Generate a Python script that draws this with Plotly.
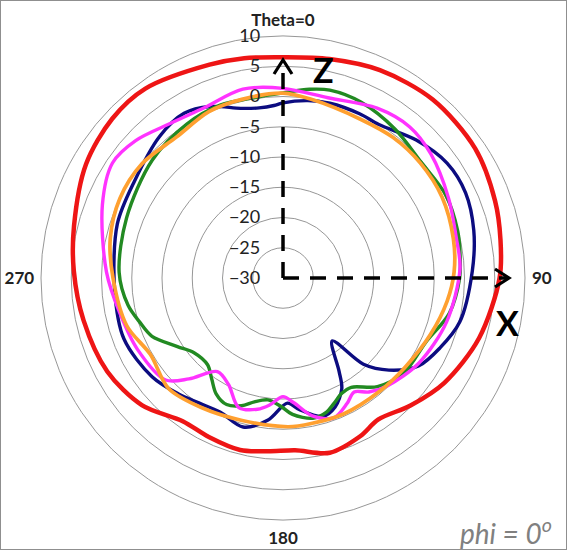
import math
import plotly.graph_objects as go

# Measured radiation patterns, phi = 0 cut (theta in degrees, gain in dB)
theta_red = [0, 12, 25, 40, 56, 70, 80, 90, 107, 123, 135, 146, 154, 165, 176, 185,
             194, 205, 215, 228, 242, 258, 272, 284, 300, 313, 324, 341, 350, 360]
r_red = [6.5, 7.0, 7.9, 8.5, 8.3, 7.3, 6.5, 5.8, 3.9, 1.8, -0.2, -1.8, -0.9, -0.1, -1.45,
         -1.25, -0.7, -1.0, -1.1, 1.4, 2.9, 3.7, 4.6, 5.6, 7.6, 8.6, 8.7, 7.3, 6.9, 6.5]

theta_navy = [0, 8, 15, 25, 32, 44, 55, 65, 76, 88, 104, 114, 123, 131, 137, 142, 149,
              152, 158, 164, 173, 178, 186, 195, 205, 214, 222, 233, 249, 266, 288, 303,
              319, 329, 337, 346, 352, 357, 360]
r_navy = [-1.05, -0.4, -0.1, -0.05, -0.1, 1.7, 3.1, 3.3, 2.5, 1.3, 0.1, -1.6, -3.3, -6.8,
          -10.5, -16.8, -12.0, -9.3, -7.0, -6.2, -8.1, -9.3, -6.4, -4.5, -5.5, -5.1, -4.2,
          -2.9, -1.85, -2.1, -1.2, -0.7, 1.05, 1.75, 0.8, -1.1, -1.6, -1.45, -1.05]

theta_green = [0, 8, 14, 24, 37, 50, 63, 75, 83, 90, 102, 114, 128, 139, 148, 153, 158,
               162, 168, 176, 181, 187, 193, 198, 204, 210, 215, 221, 230, 237, 246, 253,
               260, 272, 291, 312, 328, 340, 351, 360]
r_green = [0.6, 1.5, 2.0, 1.8, 0.8, -0.2, 0.2, -0.1, -0.5, -0.8, -1.9, -4.1, -4.6, -6.2,
           -8.7, -8.6, -7.6, -6.7, -6.3, -7.4, -8.8, -9.7, -9.0, -7.8, -7.1, -7.9, -9.5,
           -11.0, -10.8, -9.2, -6.3, -5.2, -4.0, -2.9, -2.3, -0.9, 0.0, 0.4, 0.2, 0.6]

theta_magenta = [0, 14, 29, 40, 50, 64, 77, 87, 105, 122, 136, 143, 148, 153, 160, 168,
                 175, 180, 186, 191, 199, 207, 215, 223, 229, 244, 258, 272, 292, 304,
                 313, 324, 335, 348, 360]
r_magenta = [1.35, 0.7, 2.1, 2.6, 1.9, 0.4, -0.6, -0.7, -2.0, -3.5, -5.2, -6.4, -7.8, -6.7,
             -5.4, -6.7, -9.3, -10.4, -8.9, -7.9, -7.4, -10.2, -11.1, -7.2, -4.3, -3.2,
             -2.4, -0.8, 2.2, 4.0, 3.3, 1.6, 1.0, 1.9, 1.35]

theta_orange = [0, 9, 26, 38, 50, 63, 77, 88, 98, 111, 126, 140, 156, 169, 178, 196, 212,
                226, 240, 253, 270, 283, 296, 309, 323, 336, 347, 360]
r_orange = [0.55, -0.1, -0.8, -0.5, -0.4, -0.5, -1.1, -1.7, -2.6, -3.9, -5.0, -5.4, -5.4,
            -5.5, -5.4, -5.5, -4.7, -3.7, -4.7, -3.0, -1.9, -0.7, 0.0, 0.0, -0.8, 0.1,
            0.3, 0.55]

radial_ticks = [-30, -25, -20, -15, -10, -5, 0, 5, 10]
angle_ticks = [0, 90, 180, 270]
angle_labels = ["Theta=0", "90", "180", "270"]

R_MIN, R_MAX = -30, 10
W, H = 567, 550
CX, CY, RPX = 283, 278, 242      # polar centre and radius in pixels

series = [
    (theta_red, r_red, "#ee1515", 4.5),
    (theta_navy, r_navy, "#0c0c80", 3.4),
    (theta_green, r_green, "#228a22", 3.4),
    (theta_magenta, r_magenta, "#ff33ff", 3.4),
    (theta_orange, r_orange, "#ffa030", 3.7),
]

fig = go.Figure()
for th, r, color, width in series:
    fig.add_trace(go.Scatterpolar(
        theta=th, r=r, mode="lines",
        line=dict(color=color, width=width, shape="spline", smoothing=0.9),
        showlegend=False, hoverinfo="skip"))


def px_to_r(px):
    return R_MIN + px * (R_MAX - R_MIN) / RPX


def axis_arrow(direction, tip_px):
    """Dashed shaft from the origin plus an open arrow head."""
    fig.add_trace(go.Scatterpolar(
        theta=[direction, direction], r=[R_MIN, px_to_r(tip_px)], mode="lines",
        line=dict(color="black", width=3.5, dash="16px,11px"),
        showlegend=False, hoverinfo="skip"))
    back, side = 14, 9
    arm = math.hypot(tip_px - back, side)
    da = math.degrees(math.atan2(side, tip_px - back))
    fig.add_trace(go.Scatterpolar(
        theta=[direction - da, direction, direction + da],
        r=[px_to_r(arm), px_to_r(tip_px), px_to_r(arm)], mode="lines",
        line=dict(color="black", width=3.2),
        showlegend=False, hoverinfo="skip"))


axis_arrow(0, 218)
axis_arrow(90, 226)

grid = "#979797"
fig.update_layout(
    width=W, height=H,
    margin=dict(l=0, r=0, t=0, b=0),
    paper_bgcolor="white",
    font=dict(family="Lato, 'Open Sans', sans-serif", color="#222222"),
    polar=dict(
        domain=dict(x=[(CX - RPX) / W, (CX + RPX) / W],
                    y=[(H - CY - RPX) / H, (H - CY + RPX) / H]),
        bgcolor="white",
        radialaxis=dict(
            range=[R_MIN, R_MAX], tickvals=radial_ticks,
            angle=90, side="counterclockwise", tickangle=90,
            showline=False, ticks="outside", ticklen=16,
            tickcolor="rgba(0,0,0,0)",
            gridcolor=grid, gridwidth=1,
            tickfont=dict(size=18, color="#222222")),
        angularaxis=dict(
            rotation=90, direction="clockwise",
            tickvals=angle_ticks,
            ticktext=["<b>%s</b>" % t for t in angle_labels],
            showgrid=False, showline=True, linecolor=grid, linewidth=1,
            ticks="outside", ticklen=3, tickcolor="rgba(0,0,0,0)",
            tickfont=dict(size=17, color="#222222")),
    ),
    annotations=[
        dict(text="<b>Z</b>", x=323 / W, y=1 - 70 / H, xref="paper", yref="paper",
             xanchor="center", yanchor="middle", showarrow=False,
             font=dict(size=34, color="black")),
        dict(text="<b>X</b>", x=507 / W, y=1 - 322 / H, xref="paper", yref="paper",
             xanchor="center", yanchor="middle", showarrow=False,
             font=dict(size=34, color="black")),
        dict(text="<i>phi = 0<sup>o</sup></i>", x=506 / W, y=1 - 531 / H,
             xref="paper", yref="paper", xanchor="center", yanchor="middle",
             showarrow=False, font=dict(size=28, color="#808080")),
    ],
    shapes=[dict(type="rect", xref="paper", yref="paper", x0=0, y0=0, x1=1, y1=1,
                 line=dict(color="#8f8f8f", width=2))],
)

fig.write_html("out.html")
